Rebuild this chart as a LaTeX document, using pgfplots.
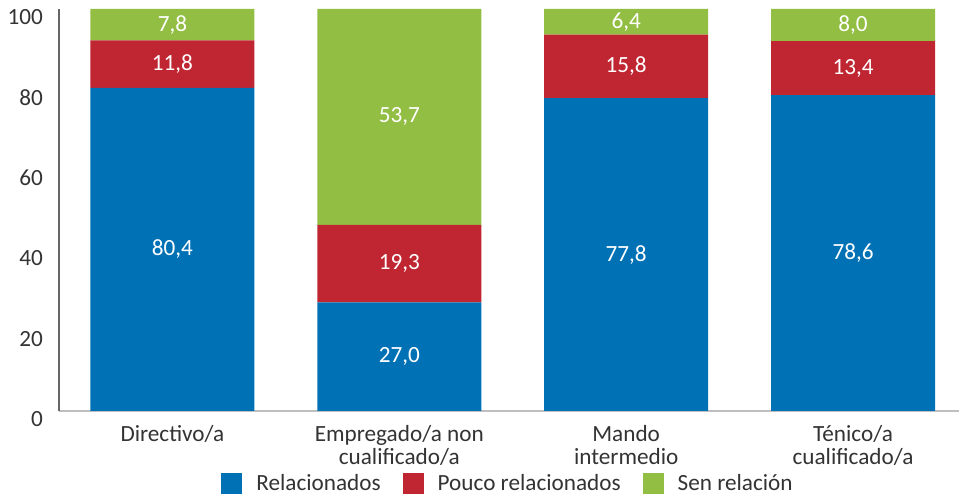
\documentclass[border=0pt]{standalone}
\usepackage{pgfplots}
\pgfplotsset{compat=1.18}
\usepackage{pgfplotstable}
\usepackage{fontspec}
\setmainfont{Carlito}
\definecolor{cblue}{HTML}{0071B5}
\definecolor{cred}{HTML}{C02532}
\definecolor{cgreen}{HTML}{92BE43}
\definecolor{ctext}{HTML}{333333}
\pgfplotstableread{
x rel pouco sen
0 80.4 11.8 7.8
1 27.0 19.3 53.7
2 77.8 15.8 6.4
3 78.6 13.4 8.0
}\datatable
\begin{document}
\begin{tikzpicture}[font=\fontsize{11.6}{11.6}\selectfont]
\begin{axis}[
  at={(0,0)}, anchor=south west,
  scale only axis, width=450pt, height=201pt,
  xmin=-0.5, xmax=3.467, ymin=0, ymax=100,
  ybar stacked, bar width=82pt,
  axis lines*=left,
  x axis line style={draw=black!25, line width=0.75pt},
  y axis line style={draw=black!60, line width=0.75pt},
  major tick length=0pt,
  xtick={0,1,2,3},
  xticklabels={Directivo/a, {Empregado/a non\\cualificado/a}, {Mando\\intermedio}, {Ténico/a\\cualificado/a}},
  xticklabel style={align=center, text=ctext, yshift=-3.5pt},
  ytick={0,20,...,100},
  yticklabel style={text=ctext, yshift=-4pt, xshift=-4.5pt},
  /pgf/number format/assume math mode=true,
  legend style={at={(0.5,0)}, anchor=center, yshift=-36.5pt, draw=none, fill=none,
    legend columns=-1, text=ctext,
    /tikz/every odd column/.append style={column sep=5pt},
    /tikz/every even column/.append style={column sep=9pt}},
  legend image code/.code={\fill[#1] (0pt,-5.25pt) rectangle (10.5pt,5.25pt);},
]
\addplot[fill=cblue, draw=none] table[x=x, y=rel] {\datatable};
\addplot[fill=cred, draw=none] table[x=x, y=pouco] {\datatable};
\addplot[fill=cgreen, draw=none] table[x=x, y=sen] {\datatable};
\legend{Relacionados, Pouco relacionados, Sen relación}
\end{axis}
\begin{axis}[
  at={(0,0)}, anchor=south west,
  scale only axis, width=450pt, height=201pt,
  xmin=-0.5, xmax=3.467, ymin=0, ymax=100,
  hide axis, clip=false,
  nodes near coords, nodes near coords align=center, point meta=explicit,
  every node near coord/.append style={text=white, anchor=center,
    /pgf/number format/.cd, fixed, fixed zerofill, precision=1, use comma, assume math mode=true},
]
\addplot[draw=none, mark=none] table[x=x, y expr=\thisrow{rel}/2, meta=rel] {\datatable};
\addplot[draw=none, mark=none] table[x=x, y expr=\thisrow{rel}+\thisrow{pouco}/2, meta=pouco] {\datatable};
\addplot[draw=none, mark=none] table[x=x, y expr=\thisrow{rel}+\thisrow{pouco}+\thisrow{sen}/2, meta=sen] {\datatable};
\end{axis}
\pgfresetboundingbox
\path (-29.5pt,-43pt) rectangle (450pt,205.5pt);
\end{tikzpicture}
\end{document}
